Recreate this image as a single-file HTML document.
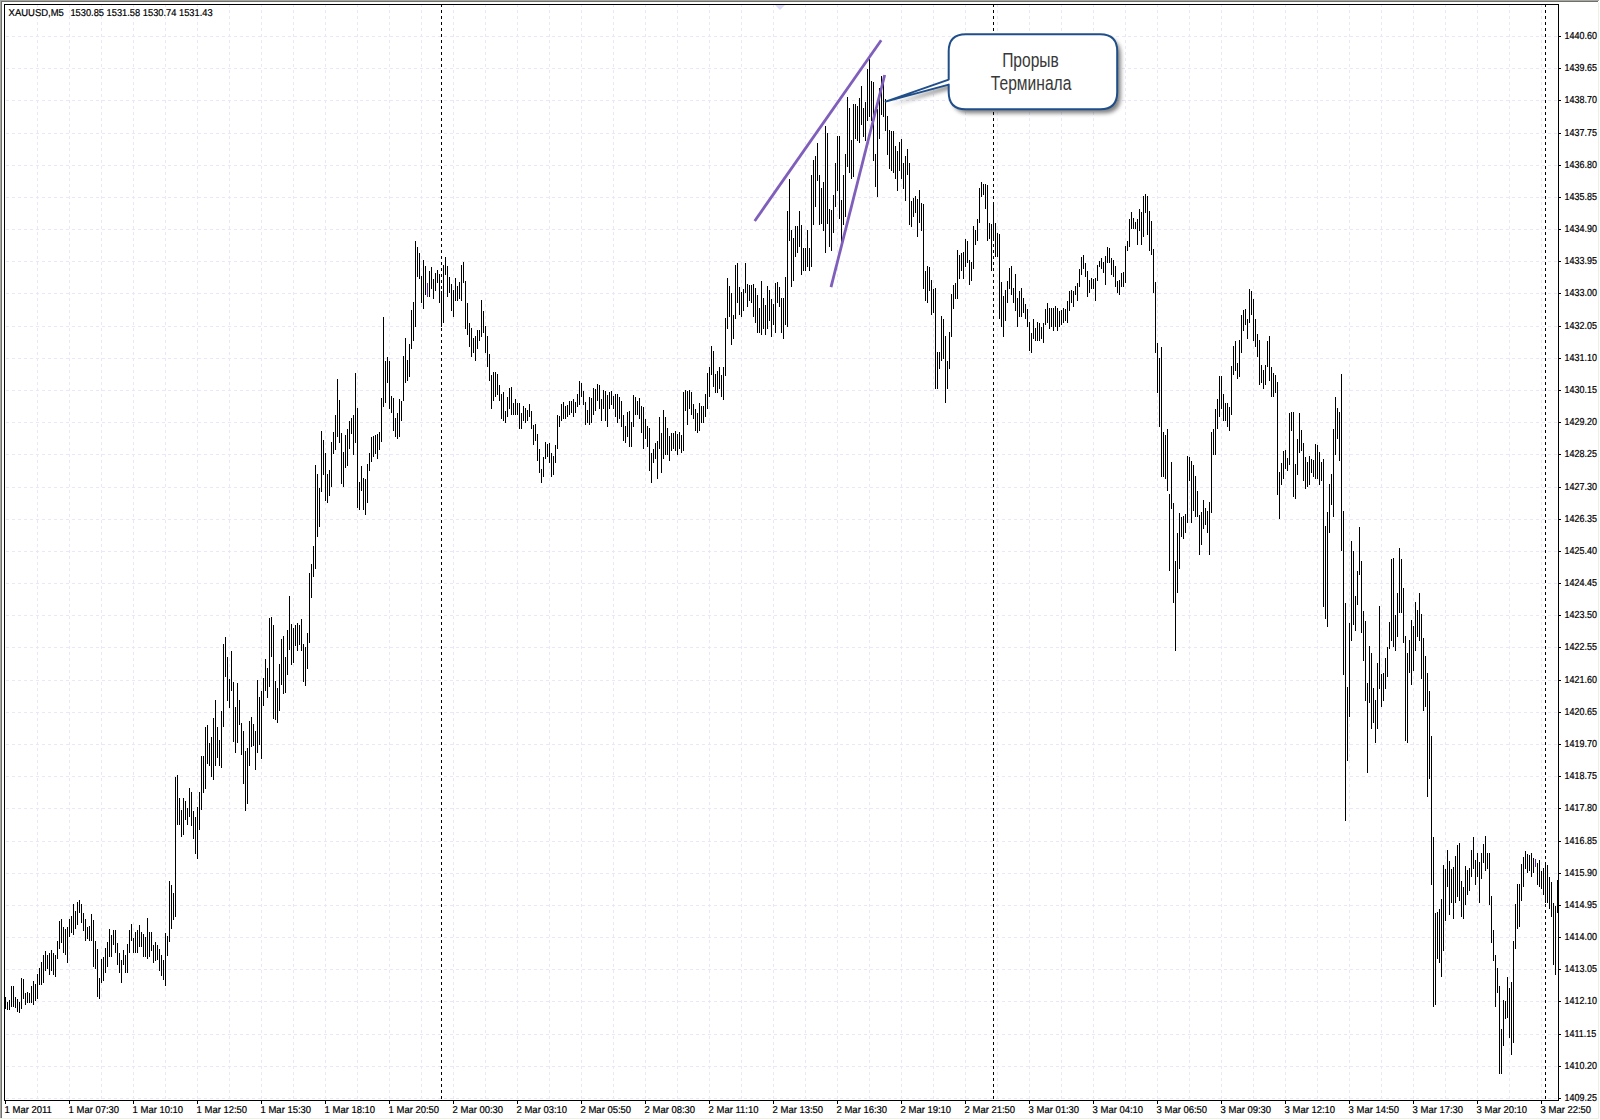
<!DOCTYPE html><html><head><meta charset="utf-8"><title>XAUUSD,M5</title><style>
html,body{margin:0;padding:0;background:#fff;}
body{width:1600px;height:1120px;overflow:hidden;position:relative;}
svg{position:absolute;left:0;top:0;}
.t{font-family:"Liberation Sans",Arial,sans-serif;font-size:10.1px;fill:#000;stroke:#000;stroke-width:0.22px;text-rendering:geometricPrecision;}
.d{font-family:"Liberation Sans",Arial,sans-serif;font-size:10px;fill:#000;stroke:#000;stroke-width:0.22px;text-rendering:geometricPrecision;}
.c{font-family:"Liberation Sans","Noto Sans CJK SC",Arial,sans-serif;font-size:19.5px;fill:#383838;}
</style></head><body>
<svg width="1600" height="1120" viewBox="0 0 1600 1120">
<rect x="0" y="0" width="1600" height="1120" fill="#fff"/>
<g shape-rendering="crispEdges">
<rect x="0" y="0" width="1599" height="1" fill="#a6a6ae"/>
<rect x="1" y="1" width="1597" height="1" fill="#70725f"/>
<rect x="0" y="0" width="1" height="1118" fill="#a6a6ae"/>
<rect x="1" y="1" width="1" height="1117" fill="#70725f"/>
<rect x="1598" y="2" width="1" height="1116" fill="#eef0e2"/>
<rect x="0" y="1118" width="1599" height="1" fill="#eef0e2"/>
<path d="M37.5 5V1100M69.5 5V1100M101.5 5V1100M133.5 5V1100M165.5 5V1100M197.5 5V1100M229.5 5V1100M261.5 5V1100M293.5 5V1100M325.5 5V1100M357.5 5V1100M389.5 5V1100M421.5 5V1100M453.5 5V1100M485.5 5V1100M517.5 5V1100M549.5 5V1100M581.5 5V1100M613.5 5V1100M645.5 5V1100M677.5 5V1100M709.5 5V1100M741.5 5V1100M773.5 5V1100M805.5 5V1100M837.5 5V1100M869.5 5V1100M901.5 5V1100M933.5 5V1100M965.5 5V1100M997.5 5V1100M1029.5 5V1100M1061.5 5V1100M1093.5 5V1100M1125.5 5V1100M1157.5 5V1100M1189.5 5V1100M1221.5 5V1100M1253.5 5V1100M1285.5 5V1100M1317.5 5V1100M1349.5 5V1100M1381.5 5V1100M1413.5 5V1100M1445.5 5V1100M1477.5 5V1100M1509.5 5V1100M1541.5 5V1100" stroke="#e9e7fa" stroke-width="1" stroke-dasharray="3 3" stroke-dashoffset="1" fill="none"/>
<path d="M5 36.5H1558M5 68.5H1558M5 100.5H1558M5 133.5H1558M5 165.5H1558M5 197.5H1558M5 229.5H1558M5 261.5H1558M5 293.5H1558M5 326.5H1558M5 358.5H1558M5 390.5H1558M5 422.5H1558M5 454.5H1558M5 487.5H1558M5 519.5H1558M5 551.5H1558M5 583.5H1558M5 615.5H1558M5 647.5H1558M5 680.5H1558M5 712.5H1558M5 744.5H1558M5 776.5H1558M5 808.5H1558M5 841.5H1558M5 873.5H1558M5 905.5H1558M5 937.5H1558M5 969.5H1558M5 1001.5H1558M5 1034.5H1558M5 1066.5H1558M5 1098.5H1558" stroke="#e9e7fa" stroke-width="1" stroke-dasharray="3 3" stroke-dashoffset="-1" fill="none"/>
<path d="M441.5 5V1100M993.5 5V1100M1545.5 5V1100" stroke="#000" stroke-width="1" stroke-dasharray="3 3" stroke-dashoffset="1" fill="none"/>
</g>
<path d="M775 5H785L780 10Z" fill="#dcdcf8"/>
<path d="M5.5 997V1009M7.5 1002V1010M9.5 1000V1010M11.5 986V1007M13.5 986V1007M15.5 997V1008M17.5 999V1012M19.5 1002V1013M21.5 978V1009M23.5 979V999M25.5 993V1005M27.5 992V1003M29.5 993V1003M31.5 986V1003M33.5 981V1005M35.5 984V1001M37.5 974V999M39.5 968V985M41.5 962V985M43.5 955V983M45.5 951V971M47.5 955V969M49.5 953V975M51.5 950V971M53.5 953V975M55.5 955V977M57.5 941V959M59.5 921V949M61.5 919V943M63.5 927V953M65.5 929V955M67.5 927V963M69.5 919V937M71.5 916V933M73.5 904V935M75.5 911V929M77.5 902V925M79.5 900V913M81.5 904V923M83.5 913V931M85.5 919V941M87.5 927V939M89.5 926V941M91.5 914V941M93.5 920V967M95.5 941V969M97.5 949V997M99.5 978V999M101.5 959V983M103.5 957V981M105.5 948V973M107.5 942V967M109.5 929V957M111.5 935V957M113.5 930V945M115.5 930V953M117.5 943V965M119.5 953V973M121.5 960V983M123.5 950V965M125.5 955V973M127.5 944V973M129.5 930V953M131.5 924V941M133.5 938V953M135.5 932V953M137.5 930V953M139.5 925V947M141.5 932V947M143.5 934V957M145.5 937V957M147.5 918V959M149.5 932V957M151.5 932V951M153.5 945V963M155.5 942V961M157.5 945V960M159.5 949V971M161.5 955V976M163.5 960V980M165.5 933V986M167.5 936V956M169.5 881V942M171.5 885V929M173.5 893V920M175.5 777V917M177.5 775V825M179.5 798V825M181.5 810V837M183.5 798V835M185.5 801V820M187.5 808V825M189.5 788V817M191.5 792V826M193.5 811V839M195.5 817V854M197.5 807V859M199.5 792V830M201.5 756V810M203.5 756V793M205.5 727V789M207.5 725V764M209.5 743V766M211.5 737V777M213.5 718V780M215.5 700V766M217.5 727V758M219.5 740V766M221.5 711V768M223.5 644V727M225.5 637V677M227.5 657V701M229.5 679V708M231.5 651V691M233.5 682V742M235.5 707V753M237.5 683V743M239.5 700V725M241.5 723V755M243.5 731V784M245.5 751V811M247.5 748V804M249.5 721V766M251.5 717V747M253.5 724V746M255.5 731V770M257.5 680V753M259.5 697V745M261.5 691V759M263.5 678V706M265.5 659V691M267.5 668V698M269.5 618V687M271.5 617V657M273.5 625V719M275.5 681V720M277.5 688V723M279.5 664V711M281.5 639V685M283.5 636V694M285.5 657V693M287.5 630V675M289.5 596V650M291.5 624V665M293.5 628V663M295.5 625V646M297.5 623V651M299.5 625V645M301.5 619V651M303.5 644V682M305.5 647V686M307.5 633V669M309.5 573V643M311.5 564V598M313.5 546V577M315.5 465V569M317.5 474V537M319.5 488V527M321.5 431V492M323.5 440V475M325.5 453V501M327.5 474V503M329.5 470V496M331.5 442V487M333.5 432V454M335.5 415V450M337.5 379V437M339.5 400V443M341.5 433V484M343.5 452V487M345.5 435V468M347.5 429V466M349.5 421V449M351.5 418V434M353.5 415V455M355.5 373V443M357.5 408V508M359.5 482V510M361.5 466V491M363.5 478V510M365.5 479V515M367.5 464V503M369.5 453V471M371.5 437V462M373.5 436V457M375.5 435V454M377.5 434V459M379.5 432V450M381.5 398V442M383.5 317V407M385.5 361V403M387.5 357V383M389.5 361V409M391.5 396V413M393.5 398V431M395.5 418V437M397.5 413V439M399.5 399V437M401.5 401V421M403.5 356V401M405.5 338V383M407.5 360V381M409.5 344V377M411.5 310V349M413.5 302V341M415.5 241V327M417.5 247V277M419.5 253V279M421.5 276V303M423.5 260V309M425.5 266V295M427.5 283V297M429.5 271V297M431.5 267V289M433.5 279V299M435.5 273V291M437.5 270V283M439.5 274V303M441.5 291V327M443.5 265V323M445.5 257V275M447.5 266V297M449.5 277V293M451.5 284V311M453.5 290V317M455.5 278V301M457.5 286V301M459.5 282V299M461.5 265V301M463.5 262V283M465.5 281V329M467.5 303V335M469.5 323V347M471.5 328V357M473.5 338V353M475.5 336V361M477.5 330V349M479.5 330V341M481.5 300V337M483.5 311V333M485.5 326V353M487.5 336V367M489.5 354V381M491.5 375V409M493.5 372V401M495.5 372V397M497.5 374V395M499.5 385V401M501.5 394V419M503.5 392V421M505.5 411V423M507.5 397V417M509.5 388V409M511.5 387V415M513.5 403V415M515.5 399V415M517.5 403V415M519.5 403V429M521.5 413V429M523.5 406V421M525.5 408V423M527.5 410V421M529.5 404V417M531.5 411V429M533.5 425V445M535.5 424V441M537.5 434V461M539.5 449V473M541.5 469V483M543.5 457V477M545.5 442V459M547.5 444V457M549.5 443V463M551.5 453V477M553.5 456V475M555.5 445V463M557.5 415V449M559.5 416V427M561.5 404V421M563.5 402V419M565.5 406V419M567.5 405V417M569.5 401V415M571.5 401V413M573.5 399V417M575.5 402V413M577.5 394V407M579.5 381V405M581.5 383V397M583.5 391V405M585.5 402V425M587.5 410V423M589.5 397V425M591.5 398V423M593.5 388V415M595.5 389V411M597.5 384V401M599.5 385V409M601.5 399V421M603.5 390V409M605.5 391V421M607.5 395V427M609.5 392V409M611.5 391V405M613.5 396V409M615.5 394V417M617.5 394V423M619.5 397V419M621.5 401V427M623.5 415V441M625.5 426V443M627.5 412V437M629.5 411V447M631.5 422V447M633.5 395V427M635.5 397V415M637.5 401V415M639.5 398V419M641.5 406V433M643.5 407V449M645.5 419V439M647.5 426V447M649.5 428V471M651.5 453V483M653.5 449V463M655.5 443V459M657.5 441V479M659.5 417V449M661.5 433V473M663.5 410V459M665.5 417V455M667.5 428V455M669.5 436V461M671.5 433V451M673.5 433V449M675.5 431V451M677.5 434V455M679.5 432V449M681.5 435V453M683.5 392V451M685.5 390V411M687.5 391V425M689.5 390V409M691.5 392V415M693.5 404V419M695.5 409V431M697.5 413V433M699.5 403V431M701.5 406V423M703.5 406V423M705.5 394V417M707.5 373V409M709.5 367V397M711.5 346V375M713.5 351V387M715.5 374V393M717.5 371V393M719.5 367V389M721.5 375V397M723.5 367V400M725.5 318V376M727.5 278V329M729.5 286V317M731.5 293V345M733.5 315V339M735.5 265V319M737.5 263V303M739.5 287V315M741.5 292V317M743.5 289V311M745.5 263V293M747.5 284V307M749.5 285V301M751.5 285V303M753.5 284V317M755.5 288V323M757.5 295V333M759.5 308V333M761.5 281V335M763.5 298V329M765.5 305V335M767.5 286V329M769.5 290V321M771.5 299V337M773.5 304V325M775.5 283V333M777.5 282V303M779.5 287V307M781.5 298V333M783.5 298V339M785.5 277V325M787.5 211V327M789.5 179V241M791.5 230V287M793.5 238V281M795.5 226V257M797.5 226V253M799.5 211V247M801.5 225V275M803.5 248V271M805.5 248V271M807.5 230V267M809.5 248V271M811.5 175V267M813.5 160V225M815.5 156V207M817.5 143V181M819.5 175V225M821.5 188V224M823.5 182V231M825.5 126V253M827.5 133V224M829.5 209V247M831.5 210V251M833.5 195V233M835.5 163V207M837.5 136V191M839.5 136V219M841.5 200V243M843.5 175V225M845.5 154V217M847.5 97V167M849.5 108V173M851.5 140V179M853.5 104V177M855.5 104V139M857.5 106V141M859.5 98V143M861.5 86V125M863.5 108V137M865.5 102V141M867.5 69V121M869.5 59V117M871.5 81V121M873.5 82V161M875.5 154V187M877.5 109V197M879.5 88V139M881.5 76V115M883.5 81V117M885.5 99V131M887.5 116V155M889.5 130V169M891.5 131V171M893.5 131V173M895.5 146V179M897.5 151V191M899.5 142V171M901.5 139V179M903.5 163V189M905.5 156V201M907.5 149V175M909.5 163V225M911.5 201V227M913.5 198V217M915.5 196V213M917.5 199V237M919.5 190V223M921.5 203V231M923.5 204V289M925.5 271V301M927.5 266V303M929.5 267V291M931.5 280V315M933.5 289V313M935.5 288V389M937.5 352V389M939.5 352V369M941.5 316V361M943.5 319V359M945.5 336V403M947.5 361V389M949.5 332V369M951.5 294V337M953.5 285V309M955.5 283V299M957.5 250V299M959.5 255V279M961.5 253V271M963.5 252V279M965.5 239V267M967.5 241V263M969.5 260V285M971.5 262V281M973.5 226V269M975.5 230V245M977.5 219V241M979.5 188V223M981.5 182V197M983.5 184V195M985.5 184V209M987.5 185V241M989.5 223V239M991.5 224V271M993.5 202V241M995.5 223V257M997.5 233V257M999.5 234V319M1001.5 282V327M1003.5 296V337M1005.5 290V321M1007.5 281V303M1009.5 268V289M1011.5 266V295M1013.5 288V303M1015.5 274V311M1017.5 298V327M1019.5 291V317M1021.5 288V317M1023.5 298V313M1025.5 304V319M1027.5 309V327M1029.5 322V351M1031.5 333V353M1033.5 319V339M1035.5 328V341M1037.5 322V341M1039.5 323V341M1041.5 327V339M1043.5 323V343M1045.5 309V325M1047.5 303V323M1049.5 308V329M1051.5 308V327M1053.5 308V331M1055.5 306V327M1057.5 308V331M1059.5 311V327M1061.5 310V325M1063.5 308V323M1065.5 309V321M1067.5 301V323M1069.5 291V311M1071.5 290V303M1073.5 291V307M1075.5 286V295M1077.5 283V301M1079.5 269V287M1081.5 257V275M1083.5 255V269M1085.5 263V277M1087.5 271V297M1089.5 280V293M1091.5 278V289M1093.5 279V289M1095.5 278V301M1097.5 265V281M1099.5 261V267M1101.5 258V269M1103.5 262V273M1105.5 256V285M1107.5 247V263M1109.5 248V263M1111.5 258V275M1113.5 260V277M1115.5 266V287M1117.5 281V293M1119.5 280V295M1121.5 273V287M1123.5 272V287M1125.5 246V283M1127.5 241V251M1129.5 219V247M1131.5 212V229M1133.5 218V229M1135.5 222V229M1137.5 219V245M1139.5 209V231M1141.5 212V245M1143.5 196V237M1145.5 194V213M1147.5 196V235M1149.5 211V251M1151.5 221V255M1153.5 249V293M1155.5 282V353M1157.5 343V393M1159.5 358V427M1161.5 347V477M1163.5 432V477M1165.5 435V479M1167.5 429V491M1169.5 494V571M1171.5 462V509M1173.5 503V603M1175.5 561V651M1177.5 533V593M1179.5 513V569M1181.5 517V537M1183.5 516V539M1185.5 514V533M1187.5 456V523M1189.5 457V481M1191.5 461V523M1193.5 465V511M1195.5 476V517M1197.5 491V517M1199.5 515V555M1201.5 512V545M1203.5 500V529M1205.5 508V525M1207.5 511V533M1209.5 502V555M1211.5 432V513M1213.5 429V455M1215.5 409V455M1217.5 399V429M1219.5 376V417M1221.5 376V409M1223.5 394V421M1225.5 403V421M1227.5 403V427M1229.5 407V431M1231.5 366V415M1233.5 346V375M1235.5 341V371M1237.5 363V379M1239.5 340V377M1241.5 315V353M1243.5 310V331M1245.5 309V325M1247.5 319V339M1249.5 289V323M1251.5 291V315M1253.5 299V341M1255.5 319V347M1257.5 334V357M1259.5 340V385M1261.5 365V383M1263.5 370V389M1265.5 365V385M1267.5 341V367M1269.5 336V381M1271.5 367V397M1273.5 373V397M1275.5 375V393M1277.5 382V495M1279.5 472V519M1281.5 463V485M1283.5 451V479M1285.5 450V469M1287.5 458V471M1289.5 413V465M1291.5 412V431M1293.5 412V497M1295.5 464V499M1297.5 439V475M1299.5 413V453M1301.5 430V451M1303.5 443V481M1305.5 457V489M1307.5 462V487M1309.5 456V485M1311.5 459V473M1313.5 460V477M1315.5 444V479M1317.5 445V479M1319.5 452V485M1321.5 462V481M1323.5 459V607M1325.5 526V619M1327.5 512V627M1329.5 484V533M1331.5 474V505M1333.5 429V517M1335.5 397V455M1337.5 408V439M1339.5 412V461M1341.5 374V551M1343.5 511V675M1345.5 603V821M1347.5 687V761M1349.5 623V717M1351.5 541V641M1353.5 551V625M1355.5 596V631M1357.5 571V605M1359.5 527V575M1361.5 561V633M1363.5 611V661M1365.5 621V701M1367.5 683V773M1369.5 646V703M1371.5 653V729M1373.5 688V723M1375.5 700V743M1377.5 663V729M1379.5 606V689M1381.5 674V707M1383.5 673V701M1385.5 658V689M1387.5 647V677M1389.5 622V649M1391.5 559V641M1393.5 558V647M1395.5 615V651M1397.5 593V637M1399.5 548V613M1401.5 559V613M1403.5 588V643M1405.5 636V741M1407.5 653V743M1409.5 640V673M1411.5 620V685M1413.5 626V671M1415.5 602V651M1417.5 610V637M1419.5 593V641M1421.5 614V679M1423.5 638V711M1425.5 656V707M1427.5 673V797M1429.5 691V779M1431.5 736V885M1433.5 837V1007M1435.5 913V1005M1437.5 912V959M1439.5 909V963M1441.5 899V977M1443.5 865V951M1445.5 869V921M1447.5 850V887M1449.5 861V915M1451.5 869V903M1453.5 867V919M1455.5 856V903M1457.5 845V897M1459.5 843V901M1461.5 881V917M1463.5 887V919M1465.5 866V905M1467.5 870V895M1469.5 868V891M1471.5 850V877M1473.5 837V869M1475.5 860V885M1477.5 853V877M1479.5 862V903M1481.5 853V879M1483.5 844V863M1485.5 836V871M1487.5 853V869M1489.5 853V905M1491.5 896V943M1493.5 930V961M1495.5 955V1007M1497.5 968V993M1499.5 986V1074M1501.5 1029V1074M1503.5 1000V1046M1505.5 1001V1019M1507.5 977V1018M1509.5 988V1038M1511.5 982V1055M1513.5 941V1043M1515.5 904V949M1517.5 884V929M1519.5 884V927M1521.5 864V901M1523.5 857V887M1525.5 851V869M1527.5 854V873M1529.5 855V871M1531.5 853V877M1533.5 858V873M1535.5 859V867M1537.5 863V885M1539.5 860V887M1541.5 871V889M1543.5 868V895M1545.5 862V903M1547.5 865V903M1549.5 877V909M1551.5 882V917M1553.5 903V965M1555.5 906V975M1557.5 880V913" stroke="#000" stroke-width="1" fill="none" shape-rendering="crispEdges"/>
<path d="M427.5 283V297M1535.5 859V867" stroke="#5b22a8" stroke-width="1" fill="none" shape-rendering="crispEdges"/>
<g shape-rendering="crispEdges" fill="#000">
<rect x="4" y="4" width="1555" height="1"/>
<rect x="4" y="1100" width="1555" height="1"/>
<rect x="4" y="4" width="1" height="1097"/>
<rect x="1558" y="4" width="1" height="1097"/>
<rect x="1559" y="36" width="2" height="1"/>
<rect x="1559" y="68" width="2" height="1"/>
<rect x="1559" y="100" width="2" height="1"/>
<rect x="1559" y="133" width="2" height="1"/>
<rect x="1559" y="165" width="2" height="1"/>
<rect x="1559" y="197" width="2" height="1"/>
<rect x="1559" y="229" width="2" height="1"/>
<rect x="1559" y="261" width="2" height="1"/>
<rect x="1559" y="293" width="2" height="1"/>
<rect x="1559" y="326" width="2" height="1"/>
<rect x="1559" y="358" width="2" height="1"/>
<rect x="1559" y="390" width="2" height="1"/>
<rect x="1559" y="422" width="2" height="1"/>
<rect x="1559" y="454" width="2" height="1"/>
<rect x="1559" y="487" width="2" height="1"/>
<rect x="1559" y="519" width="2" height="1"/>
<rect x="1559" y="551" width="2" height="1"/>
<rect x="1559" y="583" width="2" height="1"/>
<rect x="1559" y="615" width="2" height="1"/>
<rect x="1559" y="647" width="2" height="1"/>
<rect x="1559" y="680" width="2" height="1"/>
<rect x="1559" y="712" width="2" height="1"/>
<rect x="1559" y="744" width="2" height="1"/>
<rect x="1559" y="776" width="2" height="1"/>
<rect x="1559" y="808" width="2" height="1"/>
<rect x="1559" y="841" width="2" height="1"/>
<rect x="1559" y="873" width="2" height="1"/>
<rect x="1559" y="905" width="2" height="1"/>
<rect x="1559" y="937" width="2" height="1"/>
<rect x="1559" y="969" width="2" height="1"/>
<rect x="1559" y="1001" width="2" height="1"/>
<rect x="1559" y="1034" width="2" height="1"/>
<rect x="1559" y="1066" width="2" height="1"/>
<rect x="1559" y="1098" width="2" height="1"/>
<rect x="5" y="1101" width="1" height="3"/>
<rect x="69" y="1101" width="1" height="3"/>
<rect x="133" y="1101" width="1" height="3"/>
<rect x="197" y="1101" width="1" height="3"/>
<rect x="261" y="1101" width="1" height="3"/>
<rect x="325" y="1101" width="1" height="3"/>
<rect x="389" y="1101" width="1" height="3"/>
<rect x="453" y="1101" width="1" height="3"/>
<rect x="517" y="1101" width="1" height="3"/>
<rect x="581" y="1101" width="1" height="3"/>
<rect x="645" y="1101" width="1" height="3"/>
<rect x="709" y="1101" width="1" height="3"/>
<rect x="773" y="1101" width="1" height="3"/>
<rect x="837" y="1101" width="1" height="3"/>
<rect x="901" y="1101" width="1" height="3"/>
<rect x="965" y="1101" width="1" height="3"/>
<rect x="1029" y="1101" width="1" height="3"/>
<rect x="1093" y="1101" width="1" height="3"/>
<rect x="1157" y="1101" width="1" height="3"/>
<rect x="1221" y="1101" width="1" height="3"/>
<rect x="1285" y="1101" width="1" height="3"/>
<rect x="1349" y="1101" width="1" height="3"/>
<rect x="1413" y="1101" width="1" height="3"/>
<rect x="1477" y="1101" width="1" height="3"/>
<rect x="1541" y="1101" width="1" height="3"/>
</g>
<g stroke="#7f5fbb" stroke-width="2.8" stroke-linecap="butt">
<line x1="754.7" y1="221" x2="881.2" y2="40.2"/>
<line x1="831" y1="287.2" x2="884.7" y2="75"/>
</g>
<defs><filter id="sh" x="-10%" y="-20%" width="130%" height="150%"><feGaussianBlur stdDeviation="2.2"/></filter></defs>
<path d="M965.7 34.2H1100.2Q1117.2 34.2 1117.2 51.2V92.2Q1117.2 109.2 1100.2 109.2H965.7Q948.7 109.2 948.7 92.2V84.6L885.6 101.6L948.7 79.6V51.2Q948.7 34.2 965.7 34.2Z" fill="#000" opacity="0.5" transform="translate(3.5,4)" filter="url(#sh)"/>
<path d="M965.7 34.2H1100.2Q1117.2 34.2 1117.2 51.2V92.2Q1117.2 109.2 1100.2 109.2H965.7Q948.7 109.2 948.7 92.2V84.6L885.6 101.6L948.7 79.6V51.2Q948.7 34.2 965.7 34.2Z" fill="#fff" stroke="#1f4e8a" stroke-width="2" stroke-linejoin="round"/>
<g transform="scale(0.80,1)">
<text class="c" x="1288.12" y="67" text-anchor="middle">Прорыв</text>
<text class="c" x="1288.87" y="90" text-anchor="middle">Терминала</text>
</g>
<g transform="scale(0.9470,1)">
<text class="d" x="9.08" y="16.2">XAUUSD,M5</text>
<text class="d" x="4.86" y="1113.2">1 Mar 2011</text>
<text class="d" x="72.44" y="1113.2">1 Mar 07:30</text>
<text class="d" x="140.02" y="1113.2">1 Mar 10:10</text>
<text class="d" x="207.60" y="1113.2">1 Mar 12:50</text>
<text class="d" x="275.18" y="1113.2">1 Mar 15:30</text>
<text class="d" x="342.77" y="1113.2">1 Mar 18:10</text>
<text class="d" x="410.35" y="1113.2">1 Mar 20:50</text>
<text class="d" x="477.93" y="1113.2">2 Mar 00:30</text>
<text class="d" x="545.51" y="1113.2">2 Mar 03:10</text>
<text class="d" x="613.09" y="1113.2">2 Mar 05:50</text>
<text class="d" x="680.68" y="1113.2">2 Mar 08:30</text>
<text class="d" x="748.26" y="1113.2">2 Mar 11:10</text>
<text class="d" x="815.84" y="1113.2">2 Mar 13:50</text>
<text class="d" x="883.42" y="1113.2">2 Mar 16:30</text>
<text class="d" x="951.00" y="1113.2">2 Mar 19:10</text>
<text class="d" x="1018.59" y="1113.2">2 Mar 21:50</text>
<text class="d" x="1086.17" y="1113.2">3 Mar 01:30</text>
<text class="d" x="1153.75" y="1113.2">3 Mar 04:10</text>
<text class="d" x="1221.33" y="1113.2">3 Mar 06:50</text>
<text class="d" x="1288.91" y="1113.2">3 Mar 09:30</text>
<text class="d" x="1356.49" y="1113.2">3 Mar 12:10</text>
<text class="d" x="1424.08" y="1113.2">3 Mar 14:50</text>
<text class="d" x="1491.66" y="1113.2">3 Mar 17:30</text>
<text class="d" x="1559.24" y="1113.2">3 Mar 20:10</text>
<text class="d" x="1626.82" y="1113.2">3 Mar 22:50</text>
</g>
<g transform="scale(0.9300,1)"><text class="d" x="75.70" y="16.2">1530.85 1531.58 1530.74 1531.43</text></g>
<g transform="scale(0.8870,1)">
<text class="t" x="1763.92" y="39.1">1440.60</text>
<text class="t" x="1763.92" y="71.1">1439.65</text>
<text class="t" x="1763.92" y="103.1">1438.70</text>
<text class="t" x="1763.92" y="136.1">1437.75</text>
<text class="t" x="1763.92" y="168.1">1436.80</text>
<text class="t" x="1763.92" y="200.1">1435.85</text>
<text class="t" x="1763.92" y="232.1">1434.90</text>
<text class="t" x="1763.92" y="264.1">1433.95</text>
<text class="t" x="1763.92" y="296.1">1433.00</text>
<text class="t" x="1763.92" y="329.1">1432.05</text>
<text class="t" x="1763.92" y="361.1">1431.10</text>
<text class="t" x="1763.92" y="393.1">1430.15</text>
<text class="t" x="1763.92" y="425.1">1429.20</text>
<text class="t" x="1763.92" y="457.1">1428.25</text>
<text class="t" x="1763.92" y="490.1">1427.30</text>
<text class="t" x="1763.92" y="522.1">1426.35</text>
<text class="t" x="1763.92" y="554.1">1425.40</text>
<text class="t" x="1763.92" y="586.1">1424.45</text>
<text class="t" x="1763.92" y="618.1">1423.50</text>
<text class="t" x="1763.92" y="650.1">1422.55</text>
<text class="t" x="1763.92" y="683.1">1421.60</text>
<text class="t" x="1763.92" y="715.1">1420.65</text>
<text class="t" x="1763.92" y="747.1">1419.70</text>
<text class="t" x="1763.92" y="779.1">1418.75</text>
<text class="t" x="1763.92" y="811.1">1417.80</text>
<text class="t" x="1763.92" y="844.1">1416.85</text>
<text class="t" x="1763.92" y="876.1">1415.90</text>
<text class="t" x="1763.92" y="908.1">1414.95</text>
<text class="t" x="1763.92" y="940.1">1414.00</text>
<text class="t" x="1763.92" y="972.1">1413.05</text>
<text class="t" x="1763.92" y="1004.1">1412.10</text>
<text class="t" x="1763.92" y="1037.1">1411.15</text>
<text class="t" x="1763.92" y="1069.1">1410.20</text>
<text class="t" x="1763.92" y="1101.1">1409.25</text>
</g>
</svg></body></html>
